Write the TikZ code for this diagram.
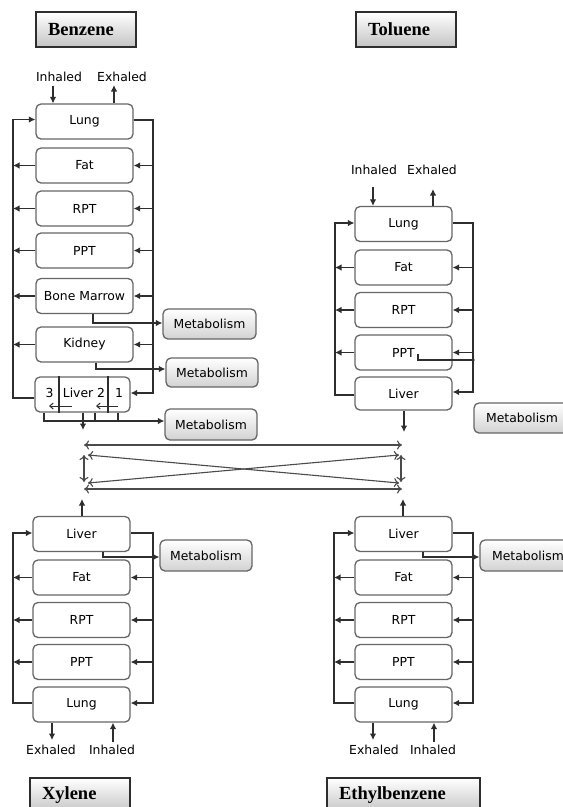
\documentclass[tikz,border=0pt]{standalone}
\usepackage{fontspec}
\setmainfont{DejaVu Sans}
\newfontfamily\titlefont{Liberation Serif}
\usetikzlibrary{arrows.meta}
\definecolor{boxgray}{HTML}{666666}
\definecolor{linegray}{HTML}{2E2E2E}
\definecolor{arrgray}{HTML}{4A4A4A}
\definecolor{shadegray}{HTML}{C4C4C4}
\definecolor{metgray}{HTML}{D2D2D2}
\begin{document}
\begin{tikzpicture}[x=1pt,y=-1pt,
  every node/.style={font=\fontsize{12.4}{14}\selectfont, inner sep=0pt},
  organ/.style={draw=boxgray, line width=1.3pt, rounded corners=5pt, fill=white,
    minimum width=97pt, minimum height=35pt},
  metab/.style={draw=boxgray, line width=1.3pt, rounded corners=5pt,
    top color=white, bottom color=metgray, minimum width=93pt, minimum height=30pt},
  titlebox/.style={draw=linegray, line width=1.2pt, top color=white, bottom color=shadegray,
    minimum height=35pt, inner xsep=12pt, align=left,
    font=\titlefont\bfseries\fontsize{18.5}{20}\selectfont},
  lbl/.style={},
  line/.style={draw=linegray, line width=1.1pt},
  arr/.style={line, -{Latex[length=6.5pt,width=6.5pt]}},
  smallarr/.style={line, line width=1pt, -{Straight Barb[length=3.5pt,width=6pt]}},
  inter/.style={draw=arrgray, line width=1.1pt, {To[length=5pt,width=9pt]}-{To[length=5pt,width=9pt]}}
]
\useasboundingbox (0,0) rectangle (563,807);

% ---------------- titles ----------------
\node[titlebox, text width=76pt] (tBen) at (86,29.5) {Benzene};
\node[titlebox, text width=76pt] (tTol) at (406,29.5) {Toluene};
\node[titlebox, text width=76pt] (tXyl) at (80,795.5) {Xylene};
\node[titlebox, text width=129pt] (tEth) at (403.5,795.5) {Ethylbenzene};

% ---------------- Benzene ----------------
\coordinate (bLx) at (13,0);
\coordinate (bRx) at (153,0);
\node[organ] (bLung) at (84.5,121.5) {Lung};
\node[organ] (bFat) at (84.5,165.5) {Fat};
\node[organ] (bRPT) at (84.5,208.5) {RPT};
\node[organ] (bPPT) at (84.5,250.5) {PPT};
\node[organ] (bBM) at (84.5,296) {Bone Marrow};
\node[organ] (bKid) at (84.5,344.5) {Kidney};
\node[organ, minimum width=95pt] (bLiv) at (82.5,394.5) {};
\node[lbl] (bL3) at (49.5,393) {3};
\node[lbl] (bLt) at (84,393) {Liver 2};
\node[lbl] (bL1) at (119,393) {1};
\coordinate (bD1) at (59,0);
\coordinate (bD2) at (108,0);
\draw[line] (bD1 |- bLiv.north) -- (bD1 |- bLiv.south);
\draw[line] (bD2 |- bLiv.north) -- (bD2 |- bLiv.south);
\coordinate (bA1s) at (72,406);
\coordinate (bA1e) at (49,406);
\coordinate (bA2s) at (118,406);
\coordinate (bA2e) at (96,406);
\draw[smallarr] (bA1s) -- (bA1e);
\draw[smallarr] (bA2s) -- (bA2e);

\node[lbl] (bIn) at (59,77) {Inhaled};
\node[lbl] (bEx) at (122,77) {Exhaled};
\coordinate (bInA) at (53,86);
\coordinate (bExA) at (114,85);
\draw[arr] (bInA) -- (bInA |- bLung.north);
\draw[arr] (bExA |- bLung.north) -- (bExA);

% left bus
\draw[arr] ([yshift=-3.5pt]bLiv.west) -- ([yshift=-3.5pt]bLiv.west -| bLx) |- ([yshift=2pt]bLung.west);
\foreach \n in {bFat,bRPT,bPPT,bBM,bKid}
  \draw[arr] (\n.west) -- (\n.west -| bLx);
% right bus
\draw[arr] ([yshift=1.5pt]bLung.east) -- ([yshift=1.5pt]bLung.east -| bRx) |- ([yshift=1.5pt]bLiv.east);
\foreach \n in {bFat,bRPT,bPPT,bBM,bKid}
  \draw[arr] (\n.east -| bRx) -- (\n.east);

% metabolism
\node[metab] (bM1) at (209.5,324) {Metabolism};
\node[metab, minimum width=92pt, minimum height=29pt] (bM2) at (212,372.5) {Metabolism};
\node[metab, minimum width=92pt, minimum height=31pt] (bM3) at (211,424.5) {Metabolism};
\coordinate (bBMo) at (93,323);
\draw[arr] (bBMo |- bBM.south) -- (bBMo) -- (bBMo -| bM1.west);
\coordinate (bKo) at (96,369);
\draw[arr] (bKo |- bKid.south) -- (bKo) -- (bKo -| bM2.west);
\coordinate (bT1) at (44,421);
\coordinate (bT2) at (95,421);
\coordinate (bT3) at (118,421);
\draw[arr] (bT1 |- bLiv.south) -- (bT1) -- (bT1 -| bM3.west);
\draw[line] (bT2 |- bLiv.south) -- (bT2);
\draw[line] (bT3 |- bLiv.south) -- (bT3);
\coordinate (bOut) at (83,430);
\draw[arr] (bOut |- bLiv.south) -- (bOut);

% ---------------- Toluene ----------------
\coordinate (tLx) at (335,0);
\coordinate (tRx) at (473,0);
\node[organ] (tLung) at (403.5,224) {Lung};
\node[organ] (tFat) at (403.5,267.5) {Fat};
\node[organ] (tRPT) at (403.5,310) {RPT};
\node[organ] (tPPT) at (403.5,352.5) {PPT};
\node[organ, minimum height=33pt] (tLiv) at (403.5,393.5) {Liver};
\node[lbl] (tIn) at (374,170) {Inhaled};
\node[lbl] (tEx) at (432,170) {Exhaled};
\coordinate (tInA) at (373,187);
\coordinate (tExA) at (433,189);
\draw[arr] (tInA) -- (tInA |- tLung.north);
\draw[arr] (tExA |- tLung.north) -- (tExA);
\draw[arr] ([yshift=-1.5pt]tLiv.west) -- ([yshift=-1.5pt]tLiv.west -| tLx) |- ([yshift=1pt]tLung.west);
\foreach \n in {tFat,tRPT,tPPT}
  \draw[arr] (\n.west) -- (\n.west -| tLx);
\draw[arr] ([yshift=1pt]tLung.east) -- ([yshift=1pt]tLung.east -| tRx) |- ([yshift=1.5pt]tLiv.east);
\foreach \n in {tFat,tRPT,tPPT}
  \draw[arr] (\n.east -| tRx) -- (\n.east);
\coordinate (tPs) at (418,354);
\coordinate (tJ) at (473,360);
\draw[line] (tPs) |- (tJ);
\fill[linegray] (tJ) circle (1.8pt);
\coordinate (tOut) at (404,432);
\draw[arr] (tOut |- tLiv.south) -- (tOut);
\node[metab, minimum width=96pt] (tM) at (522,418) {Metabolism};

% ---------------- interactions ----------------
\coordinate (iTL) at (84,445);
\coordinate (iTR) at (402,445);
\coordinate (iDL1) at (88,455);
\coordinate (iDR1) at (399,483);
\coordinate (iDL2) at (88,483);
\coordinate (iDR2) at (399,455);
\coordinate (iVL1) at (84,455);
\coordinate (iVL2) at (84,482);
\coordinate (iVR1) at (401,455);
\coordinate (iVR2) at (401,482);
\coordinate (iBL) at (84,489);
\coordinate (iBR) at (402,489);
\draw[inter] (iTL) -- (iTR);
\draw[inter] (iDL1) -- (iDR1);
\draw[inter] (iDL2) -- (iDR2);
\draw[inter] (iVL1) -- (iVL2);
\draw[inter] (iVR1) -- (iVR2);
\draw[inter] (iBL) -- (iBR);

% ---------------- Xylene ----------------
\coordinate (xLx) at (13,0);
\coordinate (xRx) at (153,0);
\node[organ] (xLiv) at (81.5,534) {Liver};
\node[organ] (xFat) at (81.5,577.5) {Fat};
\node[organ] (xRPT) at (81.5,620) {RPT};
\node[organ] (xPPT) at (81.5,662) {PPT};
\node[organ] (xLung) at (81.5,704.5) {Lung};
\coordinate (xUp) at (82,499);
\draw[arr] (xUp |- xLiv.north) -- (xUp);
\draw[arr] ([yshift=1.5pt]xLung.west) -- ([yshift=1.5pt]xLung.west -| xLx) |- ([yshift=1pt]xLiv.west);
\foreach \n in {xFat,xRPT,xPPT}
  \draw[arr] (\n.west) -- (\n.west -| xLx);
\draw[arr] ([yshift=1pt]xLiv.east) -- ([yshift=1pt]xLiv.east -| xRx) |- ([yshift=1.5pt]xLung.east);
\foreach \n in {xFat,xRPT,xPPT}
  \draw[arr] (\n.east -| xRx) -- (\n.east);
\node[metab, minimum width=92pt, minimum height=31pt] (xM) at (206,555.5) {Metabolism};
\coordinate (xMo) at (103,557);
\draw[arr] (xMo |- xLiv.south) -- (xMo) -- (xMo -| xM.west);
\node[lbl] (xEx) at (51,750) {Exhaled};
\node[lbl] (xIn) at (112,750) {Inhaled};
\coordinate (xExA) at (52,740);
\coordinate (xInA) at (113,742);
\draw[arr] (xExA |- xLung.south) -- (xExA);
\draw[arr] (xInA) -- (xInA |- xLung.south);

% ---------------- Ethylbenzene ----------------
\coordinate (eLx) at (334,0);
\coordinate (eRx) at (473,0);
\node[organ] (eLiv) at (403.5,534) {Liver};
\node[organ] (eFat) at (403.5,577.5) {Fat};
\node[organ] (eRPT) at (403.5,620) {RPT};
\node[organ] (ePPT) at (403.5,662) {PPT};
\node[organ] (eLung) at (403.5,704.5) {Lung};
\coordinate (eUp) at (403,499);
\draw[arr] (eUp |- eLiv.north) -- (eUp);
\draw[arr] ([yshift=1.5pt]eLung.west) -- ([yshift=1.5pt]eLung.west -| eLx) |- ([yshift=1pt]eLiv.west);
\foreach \n in {eFat,eRPT,ePPT}
  \draw[arr] (\n.west) -- (\n.west -| eLx);
\draw[arr] ([yshift=1pt]eLiv.east) -- ([yshift=1pt]eLiv.east -| eRx) |- ([yshift=1.5pt]eLung.east);
\foreach \n in {eFat,eRPT,ePPT}
  \draw[arr] (\n.east -| eRx) -- (\n.east);
\node[metab, minimum width=96pt, minimum height=31pt] (eM) at (528,555.5) {Metabolism};
\coordinate (eMo) at (423,557);
\draw[arr] (eMo |- eLiv.south) -- (eMo) -- (eMo -| eM.west);
\node[lbl] (eEx) at (374,750) {Exhaled};
\node[lbl] (eIn) at (433,750) {Inhaled};
\coordinate (eExA) at (373,740);
\coordinate (eInA) at (434,742);
\draw[arr] (eExA |- eLung.south) -- (eExA);
\draw[arr] (eInA) -- (eInA |- eLung.south);
\end{tikzpicture}
\end{document}
